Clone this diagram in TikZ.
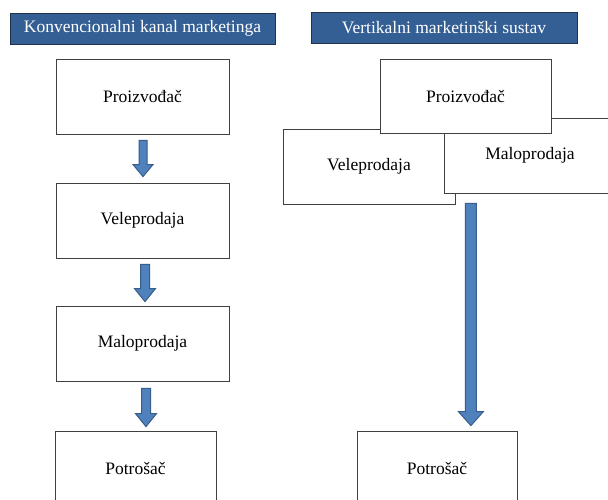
\documentclass[tikz,border=0pt]{standalone}
\usepackage{fontspec}
\setmainfont{Liberation Serif}
\usetikzlibrary{calc}
\definecolor{hdrfill}{RGB}{52,95,148}
\definecolor{hdrdraw}{RGB}{35,50,75}
\definecolor{arrfill}{RGB}{79,129,189}
\definecolor{arrdraw}{RGB}{56,93,138}
\tikzset{
  hdr/.style={draw=hdrdraw, line width=0.9pt, fill=hdrfill, text=white, inner sep=0pt,
    minimum height=31pt, font=\fontsize{17.5}{20}\selectfont},
  box/.style={draw=black!75, line width=0.8pt, fill=white, inner sep=0pt,
    minimum width=172pt, minimum height=75pt, font=\fontsize{17.5}{20}\selectfont},
  barrowsty/.style={draw=arrdraw, line width=1pt, fill=arrfill, line join=miter}
}
\newcommand\blockarr[5]{%
  \draw[barrowsty] let \p1=(#1), \p2=(#2) in
    (\x1-#3pt,\y1) -- (\x1-#3pt,\y2+#5pt) -- (\x1-#4pt,\y2+#5pt) -- (\x1,\y2)
    -- (\x1+#4pt,\y2+#5pt) -- (\x1+#3pt,\y2+#5pt) -- (\x1+#3pt,\y1) -- cycle;}
\begin{document}
\begin{tikzpicture}[x=1pt,y=-1pt]
\useasboundingbox[fill=white] (0,0) rectangle (608,500);
% headers
\node[hdr, minimum width=265pt] (h1) at (142.5,28.5) {Konvencionalni kanal marketinga};
\node[hdr, minimum width=266pt] (h2) at (444,27.5) {Vertikalni marketinški sustav};
% left column
\node[box, minimum width=173pt] (p1) at (142.5,96.5) {Proizvođač};
\node[box, minimum width=173pt] (v1) at (142.5,220.5) {Veleprodaja};
\node[box, minimum width=173pt] (m1) at (142.5,343.5) {Maloprodaja};
\node[box, minimum width=161pt] (c1) at (135.5,468.5) {Potrošač};
% right column
\node[box] (v2) at (369,166.5) {Veleprodaja};
\node[box] (m2) at (530,155.5) {Maloprodaja};
\node[box, minimum width=171pt, minimum height=74pt] (p2) at (465.5,96) {Proizvođač};
\node[box, minimum width=160pt] (c2) at (437,468.5) {Potrošač};
% arrow end points
\coordinate (a1s) at ($(p1.south)+(0.5,6)$);
\coordinate (a1e) at ($(v1.north)+(0.5,-6)$);
\coordinate (a2s) at ($(v1.south)+(2.5,6)$);
\coordinate (a2e) at ($(m1.north)+(2.5,-4)$);
\coordinate (a3s) at ($(m1.south)+(3.5,7)$);
\coordinate (a3e) at ($(c1.north)+(10.5,-4)$);
\coordinate (bs) at ($(v2.south east)+(15.5,-1)$);
\coordinate (be) at ($(c2.north)+(33.5,-5)$);
\blockarr{a1s}{a1e}{4}{10}{12}
\blockarr{a2s}{a2e}{4.5}{10.5}{13}
\blockarr{a3s}{a3e}{4.5}{10.5}{13}
\blockarr{bs}{be}{5.5}{12.5}{14}
\end{tikzpicture}
\end{document}
